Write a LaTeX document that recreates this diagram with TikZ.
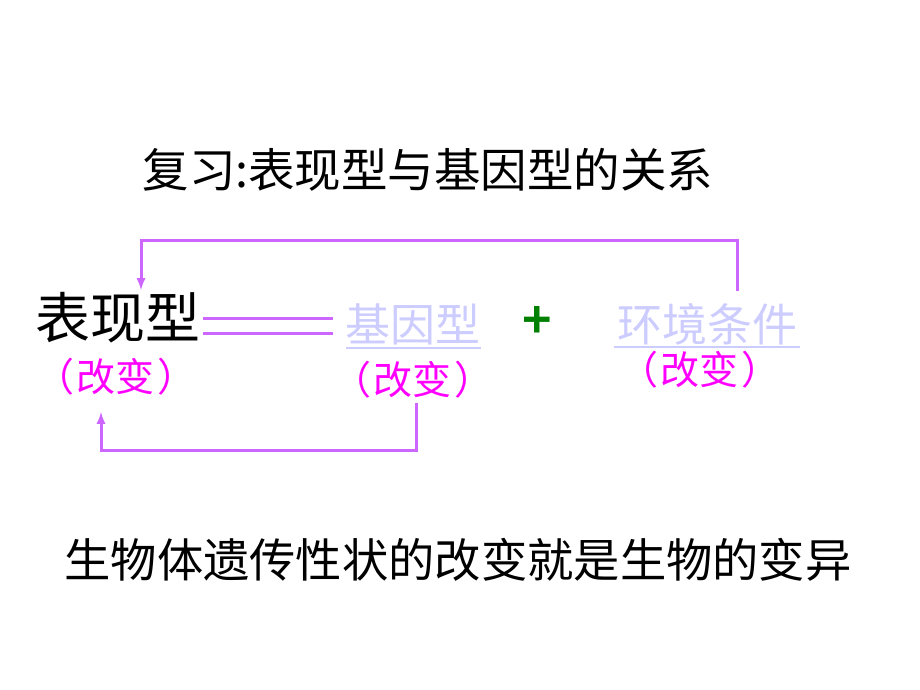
\documentclass[tikz,border=0pt]{standalone}
\usepackage{fontspec}
\setmainfont{Noto Sans CJK SC}[BoldFont={Noto Sans CJK SC Bold}]
\usepackage{tikz}
\usetikzlibrary{arrows}

\definecolor{linkpurple}{RGB}{204,102,255}
\definecolor{changepink}{RGB}{255,0,255}
\definecolor{paleblue}{RGB}{204,204,255}
\definecolor{plusgreen}{RGB}{0,128,0}

\newcommand{\gaibian}{（\kern3pt改变\kern3pt）}

\tikzset{
  word/.style={inner sep=0pt, anchor=center},
  change/.style={word, text=changepink, font=\fontsize{39}{42}\selectfont},
  pale/.style={word, text=paleblue, font=\fontsize{45}{50}\selectfont},
  flow/.style={draw=linkpurple, line width=3pt, -latex},
  link/.style={draw=linkpurple, line width=3pt},
}

\begin{document}
\begin{tikzpicture}[x=1pt,y=-1pt]
 \useasboundingbox (0,0) rectangle (920,690);
 %title
 \node[word, font=\fontsize{46.5}{50}\selectfont] (title) at (428,170) {复习:表现型与基因型的关系};
 \node[word, font=\fontsize{55}{60}\selectfont] (bxx) at (118,318) {表现型};
 \node[change] (bxxc) at (116,377) {\gaibian};
 \node[pale] (jyx) at (413,324) {基因型};
 \node[change] (jyxc) at (413,380) {\gaibian};
 \node[word, text=plusgreen, font=\fontsize{50}{52}\selectfont\bfseries] (plus) at (537,322) {+};
 \node[pale] (envc) at (707,324) {环境条件};
 \node[change] (envcc) at (700,370) {\gaibian};
 \draw[draw=paleblue, line width=1.5pt] (346,348) -- (481,348);
 \draw[draw=paleblue, line width=1.5pt] (614,347) -- (800,347);
 % double line
 \draw[link] (203,318) -- (333,318);
 \draw[link] (203,333) -- (333,333);
 % feedback arrows
 \coordinate (topR) at (737,291);
 \coordinate (topL) at (141,290);
 \draw[flow] (topR) -- (737,240) -| (topL);
 \coordinate (botR) at (416,403);
 \coordinate (botL) at (101,412);
 \draw[flow] (botR) -- (416,450) -| (botL);
 \node[word, font=\fontsize{46.3}{50}\selectfont] (sum) at (458,560) {生物体遗传性状的改变就是生物的变异};
\end{tikzpicture}
\end{document}
